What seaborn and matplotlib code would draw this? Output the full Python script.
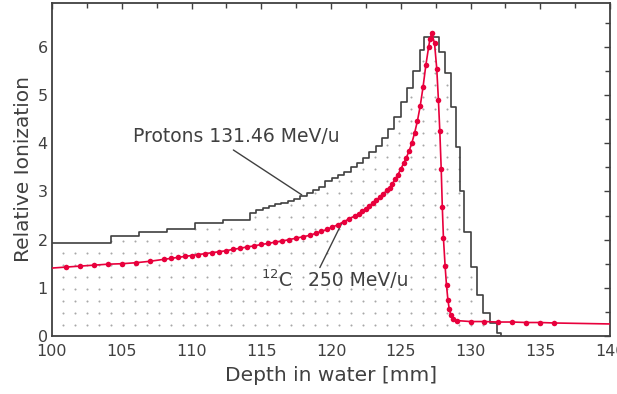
import numpy as np
import pandas as pd
import matplotlib
matplotlib.use("Agg")
import matplotlib.pyplot as plt
from matplotlib.ticker import MultipleLocator
import seaborn as sns

# ------------------------------------------------------------------
# data (depth in mm, relative ionization)
# ------------------------------------------------------------------
proton_edges = [100, 104.25, 106.25, 108.25, 110.25, 112.25,
                114.2, 114.65, 115.1, 115.55, 116.0, 116.45, 116.9, 117.35,
                117.8, 118.25, 118.7, 119.15, 119.6, 120.05, 120.5, 120.95,
                121.4, 121.85, 122.3, 122.75, 123.2, 123.65, 124.1, 124.55,
                125.0, 125.45, 125.9, 126.35, 126.65, 127.75,
                128.2, 128.6, 128.95, 129.25, 129.5, 130.0, 130.45, 130.9,
                131.4, 131.9, 132.2]
proton_values = [1.94, 2.07, 2.15, 2.23, 2.34, 2.41,
                 2.56, 2.61, 2.65, 2.69, 2.73, 2.77, 2.81, 2.85, 2.90, 2.96,
                 3.03, 3.10, 3.21, 3.28, 3.34, 3.41, 3.50, 3.60, 3.70, 3.82,
                 3.95, 4.10, 4.30, 4.55, 4.85, 5.15, 5.50,
                 5.93, 6.20,
                 5.90, 5.45, 4.76, 3.93, 3.00, 2.16, 1.44, 0.85, 0.47, 0.26,
                 0.06]

carbon_depth = [100.0,
                101.0, 102.0, 103.0, 104.0, 105.0, 106.0, 107.0, 108.0,
                108.5, 109.0, 109.5, 110.0, 110.5, 111.0, 111.5, 112.0, 112.5,
                113.0, 113.5, 114.0, 114.5, 115.0, 115.5, 116.0, 116.5, 117.0,
                117.5, 118.0, 118.5, 118.9, 119.3, 119.7, 120.1, 120.5, 120.9,
                121.3, 121.7, 122.0, 122.25, 122.5, 122.75, 123.0, 123.25,
                123.5, 123.75, 124.0, 124.2, 124.4, 124.6, 124.8, 125.0, 125.2,
                125.4, 125.6, 125.8, 126.0, 126.2, 126.4, 126.6, 126.8, 127.0,
                127.1, 127.22,
                127.42, 127.58, 127.70, 127.80, 127.90, 127.98, 128.06, 128.18,
                128.28, 128.38, 128.47, 128.58, 128.75, 129.0,
                130.0, 131.0, 132.0, 133.0, 134.0, 135.0, 136.0,
                140.0]
carbon_dose = [1.41,
               1.43, 1.45, 1.47, 1.49, 1.50, 1.52, 1.55, 1.59,
               1.61, 1.63, 1.65, 1.67, 1.69, 1.71, 1.73, 1.75, 1.77,
               1.80, 1.82, 1.85, 1.87, 1.90, 1.92, 1.95, 1.97, 2.00,
               2.03, 2.06, 2.09, 2.13, 2.17, 2.21, 2.26, 2.31, 2.37,
               2.43, 2.49, 2.54, 2.59, 2.64, 2.70, 2.76, 2.82,
               2.88, 2.95, 3.02, 3.08, 3.16, 3.25, 3.35, 3.46, 3.58,
               3.70, 3.84, 4.01, 4.22, 4.47, 4.78, 5.17, 5.62, 6.00,
               6.17, 6.28,
               6.08, 5.55, 4.90, 4.25, 3.47, 2.67, 2.03, 1.45,
               1.05, 0.75, 0.57, 0.44, 0.36, 0.32,
               0.30, 0.30, 0.29, 0.29, 0.28, 0.28, 0.27,
               0.25]
# first and last carbon entries are line ends only, no marker
carbon_marked = [False] + [True] * (len(carbon_depth) - 2) + [False]

INK = '#404040'
RED = '#e8003c'

sns.set_style("white")
plt.rcParams['font.family'] = ['DejaVu Sans']

fig = plt.figure(figsize=(6.17, 3.94), dpi=100)
ax = fig.add_axes([52 / 617, 1 - 336 / 394, 558 / 617, 333 / 394])

# dotted background under the proton histogram (12 px grid)
gx, gy = np.meshgrid(np.arange(100.82, 140, 0.86), np.arange(0.235, 7, 0.249))
gx, gy = gx.ravel(), gy.ravel()
idx = np.searchsorted(proton_edges, gx, side='right') - 1
inside = (idx >= 0) & (idx < len(proton_values))
level = np.where(inside, np.take(proton_values, np.clip(idx, 0, len(proton_values) - 1)), 0)
keep = inside & (gy < level - 0.05)
ax.scatter(gx[keep], gy[keep], s=2.2, color='#a8a8a8', linewidths=0, zorder=1)

# proton histogram
step_df = pd.DataFrame({'depth': proton_edges,
                        'ion': proton_values + [0.0]})
sns.lineplot(data=step_df, x='depth', y='ion', drawstyle='steps-post',
             estimator=None, sort=False, color=INK, linewidth=1.2, ax=ax,
             zorder=3)

# carbon curve with markers
c_df = pd.DataFrame({'depth': carbon_depth, 'ion': carbon_dose,
                     'marked': carbon_marked})
sns.lineplot(data=c_df, x='depth', y='ion', estimator=None, sort=False,
             color=RED, linewidth=1.2, ax=ax, zorder=4)
sns.scatterplot(data=c_df[c_df['marked']], x='depth', y='ion', color=RED,
                s=16, linewidth=0, ax=ax, zorder=5)

# labels with leader lines
ax.text(105.8, 4.13, 'Protons 131.46 MeV/u', fontsize=13.5, color=INK,
        va='center', ha='left')
ax.plot([113.0, 117.9], [3.86, 2.93], color=INK, linewidth=1.0, zorder=3)
ax.text(115.0, 1.16, r'$^{12}$C', fontsize=13.5, color=INK,
        va='center', ha='left')
ax.text(118.35, 1.16, '250 MeV/u', fontsize=13.5, color=INK,
        va='center', ha='left')
ax.plot([120.77, 119.2], [2.34, 1.42], color=INK, linewidth=1.0, zorder=3)

ax.set_xlim(100, 140)
ax.set_ylim(0, 6.91)
ax.xaxis.set_major_locator(MultipleLocator(5))
ax.xaxis.set_minor_locator(MultipleLocator(2.5))
ax.yaxis.set_major_locator(MultipleLocator(1))
ax.yaxis.set_minor_locator(MultipleLocator(0.5))
ax.tick_params(which='both', direction='in', top=True, right=True,
               color=INK, width=1.0, labelcolor=INK, labelsize=11.5)
ax.tick_params(which='major', length=4.5)
ax.tick_params(axis='x', which='major', pad=6)
ax.tick_params(axis='y', which='major', pad=3)
ax.tick_params(which='minor', length=3.5)
for sp in ax.spines.values():
    sp.set_color(INK)
    sp.set_linewidth(1.3)

ax.set_xlabel('Depth in water [mm]', fontsize=14.5, color=INK, labelpad=5)
ax.set_ylabel('Relative Ionization', fontsize=14.5, color=INK, labelpad=3)

fig.savefig('out.png', dpi=100)
